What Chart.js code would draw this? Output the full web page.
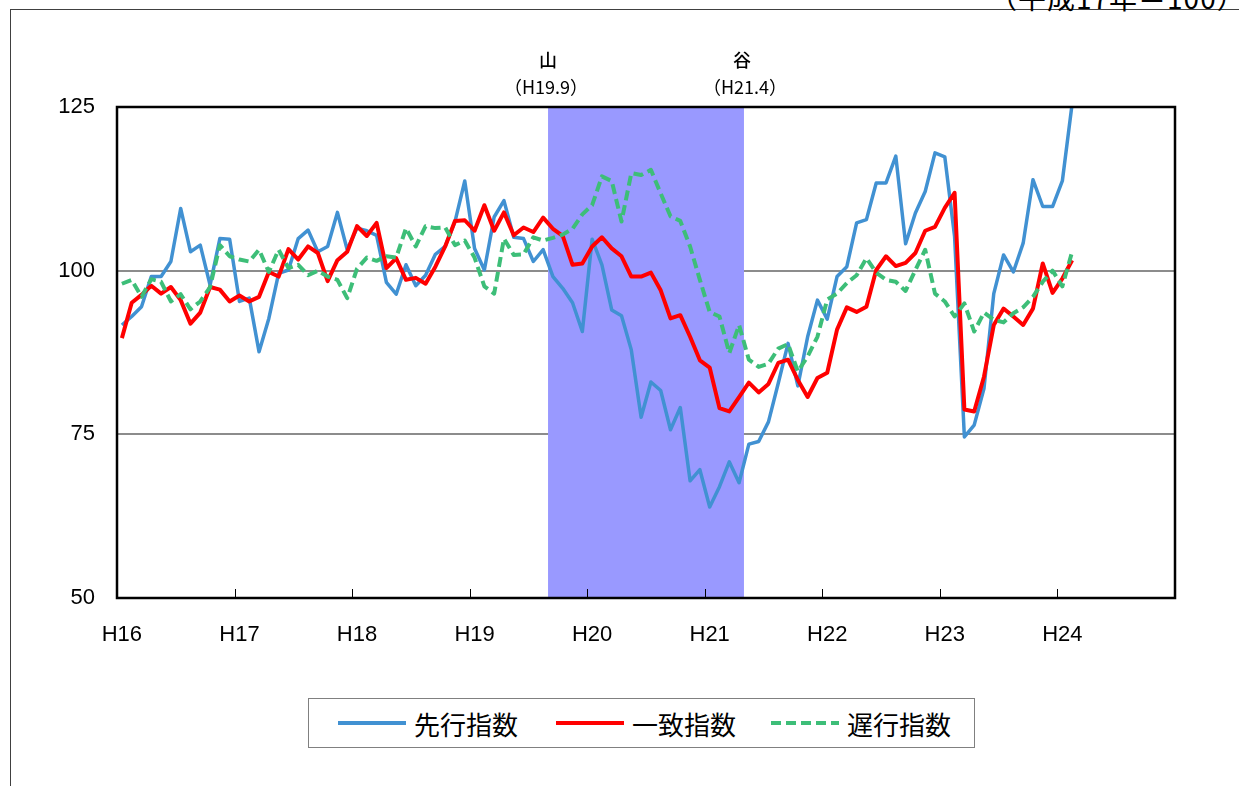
<!DOCTYPE html>
<html><head><meta charset="utf-8">
<script src="https://cdn.jsdelivr.net/npm/chart.js@4"></script>
<style>
html,body{margin:0;padding:0;background:#fff;overflow:hidden;}
#wrap{position:relative;width:1239px;height:786px;overflow:hidden;background:#fff;}
#frame{position:absolute;left:10px;top:9px;width:1300px;height:900px;border:1px solid #404040;box-sizing:border-box;}
#unit{position:absolute;left:989px;top:-17px;font-size:28px;letter-spacing:1px;font-family:"Noto Sans CJK JP";white-space:nowrap;line-height:1;color:#000;}
canvas{position:absolute;left:0;top:0;}
#legend{position:absolute;left:308px;top:698px;width:667px;height:50px;border:1px solid #808080;box-sizing:border-box;background:#fff;}
.item{position:absolute;top:0;height:48px;display:flex;align-items:center;font-family:"Noto Sans CJK JP";font-size:26px;color:#000;white-space:nowrap;}
.item svg{margin-right:8px;}
</style></head>
<body><div id="wrap">
<div id="frame"></div>
<div id="unit">（平成17年＝100）</div>
<canvas id="c" width="1239" height="786"></canvas>
<div id="legend"></div>
</div>
<script>
const years = ['H16','H17','H18','H19','H20','H21','H22','H23','H24'];
const categories = [];
for (const y of years) for (let m = 1; m <= 12; m++) categories.push(y + '.' + m);

const seriesNames = ['先行指数', '一致指数', '遅行指数'];
const seriesColors = ['#4191D2', '#FF0000', '#3DBE78'];

const leading = [91.7,93.0,94.5,99.1,99.1,101.4,109.5,102.9,103.9,97.8,104.9,104.8,
95.3,95.8,87.6,92.7,99.6,100.1,104.9,106.2,102.9,103.7,108.9,103.2,
106.5,106.1,105.4,98.2,96.4,100.9,97.7,99.3,102.5,103.7,107.5,113.7,
103.4,100.1,108.2,110.7,105.1,104.9,101.4,103.2,99.1,97.3,95.1,90.7,
104.8,100.9,94.0,93.1,87.9,77.6,83.0,81.7,75.7,79.1,67.9,69.6,
63.9,67.0,70.8,67.6,73.5,73.9,76.9,82.8,88.9,82.4,89.9,95.5,
92.6,99.1,100.6,107.3,107.8,113.4,113.4,117.5,104.1,108.8,112.1,118.0,
117.4,105.2,74.6,76.4,82.0,96.5,102.4,99.8,104.2,113.9,109.8,109.8,
113.7,125.5];

const coincident = [89.7,95.1,96.3,97.7,96.5,97.5,95.5,91.9,93.6,97.5,97.1,95.3,
96.2,95.3,96.0,99.8,99.1,103.3,101.7,103.7,102.7,98.4,101.6,102.9,
106.8,105.3,107.3,100.4,101.9,98.6,98.9,98.0,100.6,103.7,107.6,107.7,
106.1,110.0,106.1,108.9,105.4,106.6,105.9,108.1,106.4,105.3,100.9,101.1,
103.7,105.1,103.4,102.2,99.1,99.1,99.7,97.0,92.7,93.2,89.9,86.3,
85.2,79.0,78.5,80.7,82.9,81.4,82.7,85.9,86.4,83.3,80.7,83.6,
84.4,91.0,94.4,93.7,94.5,100.1,102.2,100.7,101.2,102.7,106.1,106.7,
109.6,111.9,78.8,78.5,83.8,91.7,94.2,93.0,91.7,94.2,101.1,96.6,
98.8,101.6];

const lagging = [98.0,98.6,96.0,98.7,98.3,95.3,96.4,94.1,95.3,97.5,103.9,102.2,
101.7,101.4,103.2,99.8,103.2,100.4,100.9,99.3,100.0,99.1,98.6,95.8,
100.3,102.0,101.5,102.2,102.0,106.5,103.7,106.8,106.5,106.6,103.9,104.6,
102.0,97.6,96.5,104.9,102.4,102.5,105.1,104.6,105.0,105.5,106.4,108.6,
110.0,114.4,113.7,107.5,114.9,114.6,115.4,111.8,108.3,107.6,103.7,98.6,
93.7,93.0,87.4,91.7,86.4,85.3,85.8,88.1,88.8,84.6,86.9,89.9,
95.6,96.5,98.1,99.3,101.9,99.7,98.6,98.3,96.9,100.1,103.2,96.5,
95.3,93.0,95.0,90.7,93.6,92.5,92.1,93.5,94.4,96.0,98.3,100.0,
97.6,102.9];

const yTicks = [50, 75, 100, 125];
const peakMonth = 'H19.9', troughMonth = 'H21.4';
const peakLabel = '山', troughLabel = '谷';

const FONT_NUM = '"Liberation Sans", Arial, sans-serif';
const FONT_JP = '"Noto Sans CJK JP", sans-serif';

// HTML legend
const legendEl = document.getElementById('legend');
const legendLefts = [29, 247, 462];
seriesNames.forEach((name, i) => {
  const d = document.createElement('div');
  d.className = 'item';
  d.style.left = legendLefts[i] + 'px';
  const dash = i === 2 ? 'stroke-dasharray="10 5"' : '';
  d.innerHTML = '<svg width="68" height="8"><line x1="0" y1="4" x2="68" y2="4" stroke="' + seriesColors[i] +
    '" stroke-width="4" ' + dash + '/></svg><span>' + name + '</span>';
  legendEl.appendChild(d);
});

const overlay = {
  id: 'overlay',
  beforeDatasetsDraw(chart) {
    const { ctx, chartArea: a, scales: { x } } = chart;
    const bw = x.getPixelForValue(1) - x.getPixelForValue(0);
    const l = x.getPixelForValue(categories.indexOf(peakMonth)) - bw / 2;
    const r = x.getPixelForValue(categories.indexOf(troughMonth)) + bw / 2;
    ctx.save();
    ctx.fillStyle = '#9999FF';
    ctx.fillRect(l, a.top, r - l, a.bottom - a.top);
    ctx.fillStyle = '#000';
    ctx.textAlign = 'center';
    ctx.textBaseline = 'middle';
    ctx.font = '500 18px ' + FONT_JP;
    ctx.fillText(peakLabel, l, 60);
    ctx.fillText(troughLabel, r - 2, 60);
    ctx.font = '18px ' + FONT_JP;
    ctx.fillText('（' + peakMonth + '）', l - 2, 87);
    ctx.fillText('（' + troughMonth + '）', r + 1, 87);
    ctx.restore();
  },
  afterDatasetsDraw(chart) {
    const { ctx, chartArea: a, scales: { x } } = chart;
    const bw = x.getPixelForValue(1) - x.getPixelForValue(0);
    ctx.save();
    ctx.strokeStyle = '#000';
    ctx.lineWidth = 1;
    for (let k = 1; k < years.length; k++) {
      const px = Math.round(x.getPixelForValue(k * 12) - bw / 2) + 0.5;
      ctx.beginPath();
      ctx.moveTo(px, a.bottom);
      ctx.lineTo(px, a.bottom - 9);
      ctx.stroke();
    }
    ctx.lineWidth = 2.5;
    ctx.strokeRect(a.left, a.top, a.right - a.left, a.bottom - a.top);
    ctx.restore();
  }
};

new Chart(document.getElementById('c'), {
  type: 'line',
  data: {
    labels: categories,
    datasets: [
      { label: seriesNames[0], data: leading, borderColor: seriesColors[0], borderWidth: 3.5, order: 3 },
      { label: seriesNames[1], data: coincident, borderColor: seriesColors[1], borderWidth: 4, order: 2 },
      { label: seriesNames[2], data: lagging, borderColor: seriesColors[2], borderWidth: 4, borderDash: [10, 5], order: 1 }
    ]
  },
  options: {
    responsive: false,
    animation: false,
    layout: { padding: { top: 107, right: 64, bottom: 128, left: 0 } },
    plugins: { legend: { display: false }, tooltip: { enabled: false } },
    elements: {
      point: { radius: 0 },
      line: { tension: 0, borderJoinStyle: 'round', fill: false }
    },
    scales: {
      x: {
        type: 'category',
        offset: true,
        grid: { display: false },
        border: { display: false },
        ticks: {
          autoSkip: false, maxRotation: 0, minRotation: 0, padding: 16, color: '#000',
          font: { family: FONT_NUM, size: 22 },
          callback: (v, i) => categories[i].endsWith('.1') ? categories[i].split('.')[0] : ''
        },
        afterFit: s => { s.height = 60; }
      },
      y: {
        min: 50, max: 125,
        afterBuildTicks: s => { s.ticks = yTicks.map(v => ({ value: v })); },
        grid: {
          drawTicks: false, lineWidth: 2,
          color: c => (c.tick && (c.tick.value === 75 || c.tick.value === 100)) ? '#8c8c8c' : 'rgba(0,0,0,0)'
        },
        border: { display: false },
        ticks: { padding: 22, color: '#000', font: { family: FONT_NUM, size: 22 } },
        afterFit: s => { s.width = 117; }
      }
    }
  },
  plugins: [overlay]
});
</script>
</body></html>
